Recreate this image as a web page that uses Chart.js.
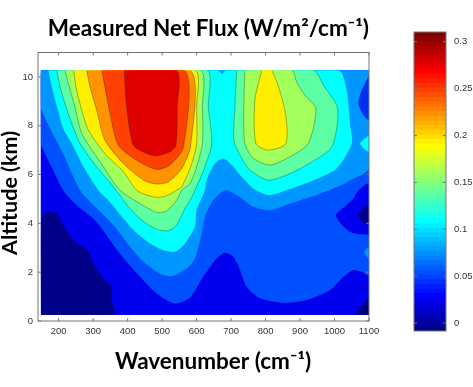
<!DOCTYPE html>
<html>
<head>
<meta charset="utf-8">
<style>
  html, body { margin: 0; padding: 0; background: #fff; }
  canvas { position: absolute; top: 0; }
  #FluxChart { left: 0; }
  #ColorbarChart { left: 400px; }
</style>
<script src="https://cdn.jsdelivr.net/npm/chart.js@4"></script>
</head>
<body>
<canvas id="FluxChart" width="417" height="387"></canvas>
<canvas id="ColorbarChart" width="73" height="387"></canvas>
<script>
const xTickValues = [200, 300, 400, 500, 600, 700, 800, 900, 1000, 1100];
const yTickValues = [0, 2, 4, 6, 8, 10];
const colorbarTickValues = [0, 0.05, 0.1, 0.15, 0.2, 0.25, 0.3];

// contour outlines, [wavenumber, altitude]
const dataRegion = [[148, 0.25], [148, 10.27], [1100, 10.27], [1100, 0.25]];

const level1 = [[148, 7.2], [184, 6.18], [213, 5.36], [247, 4.81], [310, 4.06], [373, 2.84], [436, 1.81], [484, 1.13], [537, 0.72], [581, 0.96], [619, 1.81], [658, 2.56], [682, 2.8], [707, 2.63], [726, 2.09], [745, 1.4], [784, 0.93], [852, 0.75], [919, 0.86], [987, 1.27], [1026, 1.81], [1055, 2.09], [1079, 2.02], [1100, 1.88], [1100, 10.27], [148, 10.27]];
const lowRight = [[1100, 3.52], [1055, 3.59], [1026, 3.86], [1004, 4.34], [1035, 4.75], [1055, 5.02], [1069, 5.36], [1100, 5.63]];
const navyLeft = [[148, 0.25], [148, 3.99], [160, 4.43], [175, 4.51], [194, 4.41], [209, 4.06], [228, 3.59], [247, 3.25], [283, 2.9], [301, 2.36], [330, 1.75], [352, 1.4], [354, 0.86], [360, 0.25]];
const navyCorner = [[1059, 0.25], [1084, 0.72], [1100, 0.97], [1100, 0.25]];
const navyRight = [[1100, 4.75], [1088, 4.68], [1069, 4.34], [1084, 4.0], [1100, 3.93]];

const level2 = [[148, 8.7], [175, 7.89], [213, 6.86], [238, 6.04], [262, 5.36], [296, 4.81], [330, 4.34], [363, 3.86], [407, 3.04], [446, 2.43], [494, 1.95], [528, 1.84], [571, 2.15], [595, 2.56], [615, 3.59], [624, 4.27], [648, 4.95], [682, 5.36], [716, 5.16], [765, 4.68], [813, 4.54], [871, 4.81], [948, 5.16], [1030, 5.63], [1045, 5.77], [1100, 6.25], [1100, 10.27], [148, 10.27]];
const level2Bump = [[1100, 3.04], [1086, 2.84], [1100, 2.56]];
const topRightPocket = [[1100, 10.07], [1079, 9.45], [1069, 8.91], [1084, 8.43], [1100, 8.23]];

const level3 = [[170, 10.27], [180, 9.59], [194, 8.84], [213, 7.89], [238, 7.27], [272, 6.32], [315, 5.36], [344, 4.95], [388, 4.2], [417, 3.72], [465, 3.18], [504, 2.9], [537, 2.84], [566, 3.18], [595, 3.86], [600, 4.54], [624, 5.36], [629, 5.77], [653, 6.45], [678, 6.66], [702, 6.39], [726, 5.98], [765, 5.43], [808, 5.16], [861, 5.36], [939, 5.77], [1006, 6.25], [1050, 7.27], [1045, 8.09], [1035, 9.45], [1011, 10.27]];
const level3Tip = [[1100, 7.61], [1074, 7.27], [1100, 6.93]];
const topNotch = [[663, 10.27], [673, 10.13], [683, 10.27]];

const level4Left = [[194, 10.27], [204, 9.59], [218, 8.91], [238, 8.09], [262, 7.27], [310, 6.32], [359, 5.5], [402, 4.68], [441, 4.13], [484, 3.75], [518, 3.7], [542, 3.93], [566, 4.61], [581, 4.95], [600, 5.5], [624, 6.32], [644, 7.27], [634, 8.77], [629, 10.27]];
const level4Right = [[716, 10.27], [711, 8.77], [708, 7.41], [726, 6.79], [755, 6.18], [808, 5.77], [861, 5.98], [919, 6.39], [992, 7.13], [1009, 8.7], [968, 9.66], [939, 10.27]];

const level5Left = [[218, 10.27], [228, 9.73], [247, 8.77], [267, 7.68], [320, 6.52], [378, 5.36], [436, 4.81], [484, 4.45], [513, 4.51], [542, 4.95], [557, 5.36], [581, 5.63], [600, 6.32], [617, 7.27], [617, 8.77], [610, 10.27]];
const level5Right = [[740, 10.27], [737, 8.77], [740, 7.27], [765, 6.66], [813, 6.39], [871, 6.73], [924, 7.27], [946, 8.7], [914, 9.25], [890, 9.8], [876, 10.27]];

const level6Left = [[243, 10.27], [252, 9.45], [267, 8.64], [286, 7.82], [334, 6.86], [388, 6.11], [426, 5.36], [455, 5.16], [489, 5.06], [518, 5.16], [542, 5.36], [557, 5.5], [586, 6.45], [600, 7.27], [600, 8.77], [595, 10.27]];
const level6Right = [[789, 10.27], [769, 9.05], [772, 7.27], [808, 7.0], [859, 7.27], [856, 8.64], [818, 10.27]];

const level7 = [[281, 10.27], [291, 9.59], [310, 8.64], [334, 7.41], [388, 6.45], [446, 5.77], [484, 5.61], [518, 5.7], [557, 6.25], [583, 7.2], [581, 10.27]];
const level8 = [[325, 10.27], [349, 8.5], [373, 7.2], [426, 6.59], [484, 6.21], [523, 6.39], [562, 7.14], [565, 10.27]];
const level9 = [[390, 10.27], [397, 8.77], [417, 7.2], [455, 6.86], [484, 6.77], [523, 6.93], [540, 7.2], [544, 8.77], [542, 10.27]];

const navy = '#000088', blue = '#0000ee', midBlue = '#0050ff', azure = '#0096ff', cyan = '#00ffff';
const teal = '#5cffa3', lime = '#a3ff5c', yellow = '#ffee00', orange = '#ff9400', redOrange = '#ff4000', red = '#e00000';
const pocketBlue = '#0030ee';

const colorbarColors = [
  '#00008f', '#00009f', '#0000af', '#0000bf', '#0000cf', '#0000df', '#0000ef', '#0000ff',
  '#0010ff', '#0020ff', '#0030ff', '#0040ff', '#0050ff', '#0060ff', '#0070ff', '#0080ff',
  '#008fff', '#009fff', '#00afff', '#00bfff', '#00cfff', '#00dfff', '#00efff', '#00ffff',
  '#10ffef', '#20ffdf', '#30ffcf', '#40ffbf', '#50ffaf', '#60ff9f', '#70ff8f', '#80ff80',
  '#8fff70', '#9fff60', '#afff50', '#bfff40', '#cfff30', '#dfff20', '#efff10', '#ffff00',
  '#ffef00', '#ffdf00', '#ffcf00', '#ffbf00', '#ffaf00', '#ff9f00', '#ff8f00', '#ff8000',
  '#ff7000', '#ff6000', '#ff5000', '#ff4000', '#ff3000', '#ff2000', '#ff1000', '#ff0000',
  '#ef0000', '#df0000', '#cf0000', '#bf0000', '#af0000', '#9f0000', '#8f0000', '#800000'
];
const colorbarMin = -0.0085;
const colorbarMax = 0.3103;

const tickFont = { family: '"Liberation Sans", Arial, sans-serif', size: 9.5 };
const tickColor = '#333';

// painted in this order, later ones cover earlier ones
const bands = [
  [dataRegion, blue], [level1, midBlue], [lowRight, blue], [navyLeft, navy], [navyCorner, navy], [navyRight, navy],
  [level2, azure], [level2Bump, azure], [topRightPocket, pocketBlue],
  [level3, cyan], [level3Tip, cyan], [topNotch, azure],
  [level4Left, teal], [level4Right, teal], [level5Left, lime], [level5Right, lime],
  [level6Left, yellow], [level6Right, yellow], [level7, orange], [level8, redOrange], [level9, red]
];
const firstLinedBand = 12;

function closedPoints(outline) {
  let points = outline.map(p => ({ x: p[0], y: p[1] }));
  points.push(points[0]);
  return points;
}

// box round the plot and the short inward ticks
function frameAndTicks(chart, axisIds) {
  let ctx = chart.ctx;
  let area = chart.chartArea;
  ctx.save();
  ctx.strokeStyle = '#777';
  ctx.lineWidth = 1;
  ctx.strokeRect(area.left, area.top, area.right - area.left, area.bottom - area.top);
  ctx.beginPath();
  axisIds.forEach(id => {
    let scale = chart.scales[id];
    scale.ticks.forEach(tick => {
      let pos = scale.getPixelForValue(tick.value);
      if (scale.isHorizontal()) {
        ctx.moveTo(pos, area.top); ctx.lineTo(pos, area.top + 3);
        ctx.moveTo(pos, area.bottom); ctx.lineTo(pos, area.bottom - 3);
      } else {
        ctx.moveTo(area.left, pos); ctx.lineTo(area.left + 3, pos);
        ctx.moveTo(area.right, pos); ctx.lineTo(area.right - 3, pos);
      }
    });
  });
  ctx.stroke();
  ctx.restore();
}

const fluxPlugin = {
  id: 'fluxPlugin',
  // rounded outlines bulge a little past the data, keep the fills inside it
  beforeDatasetsDraw(chart) {
    let ctx = chart.ctx;
    let { x, y } = chart.scales;
    let left = x.getPixelForValue(dataRegion[0][0]);
    let right = x.getPixelForValue(dataRegion[2][0]);
    let top = y.getPixelForValue(dataRegion[1][1]);
    let bottom = y.getPixelForValue(dataRegion[0][1]);
    ctx.save();
    ctx.beginPath();
    ctx.rect(left, top, right - left, bottom - top);
    ctx.clip();
  },
  afterDatasetsDraw(chart) {
    chart.ctx.restore();
  },
  afterDraw(chart) {
    frameAndTicks(chart, ['x', 'y']);
    let ctx = chart.ctx;
    ctx.save();
    ctx.fillStyle = '#000';
    ctx.textAlign = 'center';
    ctx.textBaseline = 'middle';
    ctx.font = 'bold 22.5px Lato, sans-serif';
    ctx.fillText('Wavenumber (cm\u207B\u00B9)', 213, 362);
    ctx.font = 'bold 21.5px Lato, sans-serif';
    ctx.translate(10, 193);
    ctx.rotate(-Math.PI / 2);
    ctx.fillText('Altitude (km)', 0, 0);
    ctx.restore();
  }
};

new Chart(document.getElementById('FluxChart'), {
  type: 'scatter',
  data: {
    datasets: bands.map((band, i) => ({
      data: closedPoints(band[0]),
      showLine: true,
      fill: 'shape',
      backgroundColor: band[1],
      borderColor: 'rgba(20, 50, 20, 0.5)',
      borderWidth: i < firstLinedBand ? 0 : 0.7,
      pointRadius: 0,
      tension: 0.25,
      order: bands.length - i,
      // hides the outline where a band runs along the edge of the data
      clip: { left: -3, right: -1, top: -18.5, bottom: -7 }
    }))
  },
  options: {
    responsive: false,
    animation: false,
    layout: { padding: { left: 0, right: 48, top: 0, bottom: 0 } },
    plugins: {
      legend: { display: false },
      tooltip: { enabled: false },
      title: {
        display: true,
        text: 'Measured Net Flux (W/m\u00B2/cm\u207B\u00B9)',
        align: 'end',
        color: '#000',
        font: { family: 'Lato, sans-serif', size: 22.5, weight: 'bold' },
        padding: { top: 15, bottom: 10.5 }
      }
    },
    scales: {
      x: {
        type: 'linear',
        min: 140,
        max: 1100,
        grid: { display: false, drawTicks: false },
        border: { display: false },
        afterBuildTicks: scale => { scale.ticks = xTickValues.map(v => ({ value: v })); },
        afterFit: scale => { scale.height = 66; },
        ticks: { font: tickFont, color: tickColor, padding: 5, maxRotation: 0, autoSkip: false, callback: value => String(value) }
      },
      y: {
        min: 0,
        max: 11,
        grid: { display: false, drawTicks: false },
        border: { display: false },
        afterBuildTicks: scale => { scale.ticks = yTickValues.map(v => ({ value: v })); },
        afterFit: scale => { scale.width = 38; },
        ticks: { font: tickFont, color: tickColor, padding: 5 }
      }
    }
  },
  plugins: [fluxPlugin]
});

let colorbarStep = (colorbarMax - colorbarMin) / colorbarColors.length;

new Chart(document.getElementById('ColorbarChart'), {
  type: 'bar',
  data: {
    labels: ['flux'],
    datasets: colorbarColors.map((color, i) => ({
      data: [[colorbarMin + i * colorbarStep, colorbarMin + (i + 1) * colorbarStep]],
      backgroundColor: color,
      borderWidth: 0,
      grouped: false,
      barPercentage: 1,
      categoryPercentage: 1
    }))
  },
  options: {
    responsive: false,
    animation: false,
    layout: { padding: { left: 14, right: 0, top: 32, bottom: 56 } },
    plugins: { legend: { display: false }, tooltip: { enabled: false } },
    scales: {
      x: { display: false },
      y: {
        position: 'right',
        min: colorbarMin,
        max: colorbarMax,
        grid: { display: false, drawTicks: false },
        border: { display: false },
        afterBuildTicks: scale => { scale.ticks = colorbarTickValues.map(v => ({ value: v })); },
        afterFit: scale => { scale.width = 27; },
        ticks: {
          font: tickFont,
          color: tickColor,
          padding: 8,
          callback: value => String(value)
        }
      }
    }
  },
  plugins: [{ id: 'colorbarFrame', afterDraw(chart) { frameAndTicks(chart, ['y']); } }]
});
</script>
</body>
</html>
